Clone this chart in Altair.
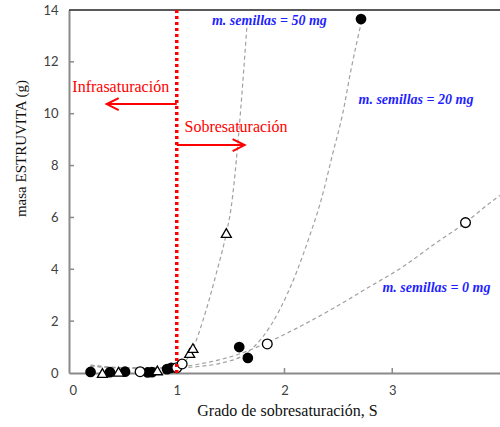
import altair as alt
import pandas as pd

# ---------------- data ----------------
# m. semillas = 20 mg  (filled circles)
s20_x = [0.20, 0.38, 0.52, 0.73, 0.77, 0.91, 0.95, 1.58, 1.66, 2.71]
s20_y = [0.04, 0.03, 0.05, 0.02, 0.03, 0.15, 0.20, 1.00, 0.58, 13.65]
# m. semillas = 0 mg  (open circles)
s0_x = [0.66, 1.00, 1.05, 1.84, 3.68]
s0_y = [0.05, 0.20, 0.35, 1.12, 5.80]
# m. semillas = 50 mg  (open triangles)
s50_x = [0.31, 0.46, 0.82, 1.12, 1.15, 1.46]
s50_y = [0.00, 0.05, 0.10, 0.77, 0.96, 5.40]

# dashed trend curves
c0_x = [0.20, 0.50, 0.80, 1.03, 1.24, 1.55, 1.86, 2.17, 2.48, 2.79, 3.10, 3.40, 3.68, 3.90, 4.00]
c0_y = [0.25, 0.20, 0.20, 0.24, 0.37, 0.69, 1.21, 1.85, 2.56, 3.33, 4.10, 5.00, 5.80, 6.54, 6.85]
c20_x = [0.20, 0.50, 0.80, 1.00, 1.20, 1.40, 1.645, 1.80, 1.954, 2.108, 2.231, 2.34, 2.448, 2.54, 2.617, 2.72]
c20_y = [0.30, 0.20, 0.18, 0.20, 0.25, 0.37, 0.76, 1.40, 2.43, 3.85, 5.26, 6.67, 8.47, 10.0, 11.69, 13.65]
c50_x = [0.20, 0.50, 0.80, 1.03, 1.151, 1.244, 1.367, 1.46, 1.506, 1.553, 1.593, 1.651]
c50_y = [0.30, 0.20, 0.20, 0.31, 0.95, 2.04, 3.84, 5.39, 6.41, 8.21, 10.14, 13.36]

# tick labels
x_ticks = [0, 1, 2, 3]
y_ticks = [0, 2, 4, 6, 8, 10, 12, 14]

# annotations
seed_labels = ["m. semillas = 50 mg", "m. semillas = 20 mg", "m. semillas = 0 mg"]
seed_lab_x = [1.86, 3.22, 3.41]
seed_lab_y = [13.57, 10.53, 3.28]
zone_labels = ["Infrasaturación", "Sobresaturación"]
zone_lab_x = [0.48, 1.55]
zone_lab_y = [11.03, 9.49]
arrow_start = [1.0, 1.0]
arrow_end = [0.35, 1.63]
arrow_y = [10.37, 8.79]
saturation_S = 1.0

# ---------------- chart ----------------
W, H = 431, 363
xs = alt.Scale(domain=[0, 4], nice=False, zero=False)
ys = alt.Scale(domain=[0, 14], nice=False)

x_axis = alt.Axis(values=x_ticks, title="Grado de sobresaturación, S", grid=False, ticks=False,
                  domainColor="#8a8a8a", domainWidth=2, labelFont="Lato", labelFontSize=13,
                  labelColor="#404040", labelPadding=11, titleFont="Liberation Serif",
                  titleFontSize=16, titleFontWeight="normal", titleColor="#111", titlePadding=5,
                  titleX=218)
y_axis = alt.Axis(values=y_ticks, title="masa ESTRUVITA (g)", grid=False, ticks=False,
                  domainColor="#8a8a8a", domainWidth=2, labelFont="Lato", labelFontSize=13,
                  labelColor="#404040", labelPadding=11, titleFont="Liberation Serif",
                  titleFontSize=15, titleFontWeight="normal", titleColor="#111", titlePadding=14,
                  titleY=138)


def X():
    return alt.X("x:Q", scale=xs, axis=x_axis, title="Grado de sobresaturación, S")


def Y():
    return alt.Y("y:Q", scale=ys, axis=y_axis, title="masa ESTRUVITA (g)")


curves = pd.concat([
    pd.DataFrame({"x": c0_x, "y": c0_y, "c": "0"}),
    pd.DataFrame({"x": c20_x, "y": c20_y, "c": "20"}),
    pd.DataFrame({"x": c50_x, "y": c50_y, "c": "50"}),
])
curve_layer = alt.Chart(curves).mark_line(
    color="#a0a0a0", strokeDash=[4, 3], strokeWidth=1.2, interpolate="monotone", clip=True
).encode(x=X(), y=Y(), detail="c:N")

filled = alt.Chart(pd.DataFrame({"x": s20_x, "y": s20_y})).mark_point(
    shape="circle", filled=True, color="black", size=115, opacity=1
).encode(x=X(), y=Y())

openc = alt.Chart(pd.DataFrame({"x": s0_x, "y": s0_y})).mark_point(
    shape="circle", filled=False, fill="white", fillOpacity=1, stroke="black",
    strokeWidth=1.3, size=95, opacity=1
).encode(x=X(), y=Y())

tri = alt.Chart(pd.DataFrame({"x": s50_x, "y": s50_y})).mark_point(
    shape="triangle-up", filled=False, fill="white", fillOpacity=1, stroke="black",
    strokeWidth=1.3, size=100, opacity=1
).encode(x=X(), y=Y())

# inside tick marks
xtick_layer = alt.Chart(pd.DataFrame({"x": x_ticks[1:]})).mark_rule(
    color="#8a8a8a", strokeWidth=1.5
).encode(x=X(), y=alt.value(H), y2=alt.value(H - 5))
ytick_layer = alt.Chart(pd.DataFrame({"y": y_ticks[1:-1]})).mark_rule(
    color="#8a8a8a", strokeWidth=1.5
).encode(y=Y(), x=alt.value(0), x2=alt.value(5))

top_border = alt.Chart(pd.DataFrame({"y": [14]})).mark_rule(
    color="#222", strokeWidth=1.5
).encode(y=Y(), x=alt.value(0), x2=alt.value(W))

sat_line = alt.Chart(pd.DataFrame({"x": [saturation_S]})).mark_rule(
    color="#ff0000", strokeWidth=3.5, strokeDash=[3, 3]
).encode(x=X(), y=alt.value(0), y2=alt.value(H))

arrows = pd.DataFrame({"x": arrow_start, "x2": arrow_end, "y": arrow_y})
arrow_lines = alt.Chart(arrows).mark_rule(color="#ff0000", strokeWidth=2).encode(
    x=X(), x2="x2:Q", y=Y()
)
head_left = alt.Chart(pd.DataFrame({"x": arrow_end[:1], "y": arrow_y[:1]})).mark_point(
    shape="M1,-1 L-1,0 L1,1", filled=False, stroke="#ff0000", strokeWidth=2,
    size=144, xOffset=6, opacity=1
).encode(x=X(), y=Y())
head_right = alt.Chart(pd.DataFrame({"x": arrow_end[1:], "y": arrow_y[1:]})).mark_point(
    shape="M-1,-1 L1,0 L-1,1", filled=False, stroke="#ff0000", strokeWidth=2,
    size=144, xOffset=-6, opacity=1
).encode(x=X(), y=Y())

zone_text = alt.Chart(pd.DataFrame({"x": zone_lab_x, "y": zone_lab_y, "t": zone_labels})).mark_text(
    font="Liberation Serif", fontSize=16, color="#ff0000", align="center", baseline="middle"
).encode(x=X(), y=Y(), text="t:N")

seed_text = alt.Chart(pd.DataFrame({"x": seed_lab_x, "y": seed_lab_y, "t": seed_labels})).mark_text(
    font="Liberation Serif", fontSize=14, fontWeight="bold", fontStyle="italic",
    color="#1f1fff", align="center", baseline="middle"
).encode(x=X(), y=Y(), text="t:N")

chart = alt.layer(
    curve_layer, xtick_layer, ytick_layer, top_border, filled, openc, tri,
    sat_line, arrow_lines, head_left, head_right, zone_text, seed_text
).properties(
    width=W, height=H,
    autosize=alt.AutoSizeParams(type="none"),
    padding={"left": 69, "top": 10, "right": 0, "bottom": 54},
    background="white",
).configure_view(stroke=None)

chart.save("out.html", embed_options={"renderer": "svg", "actions": False})
